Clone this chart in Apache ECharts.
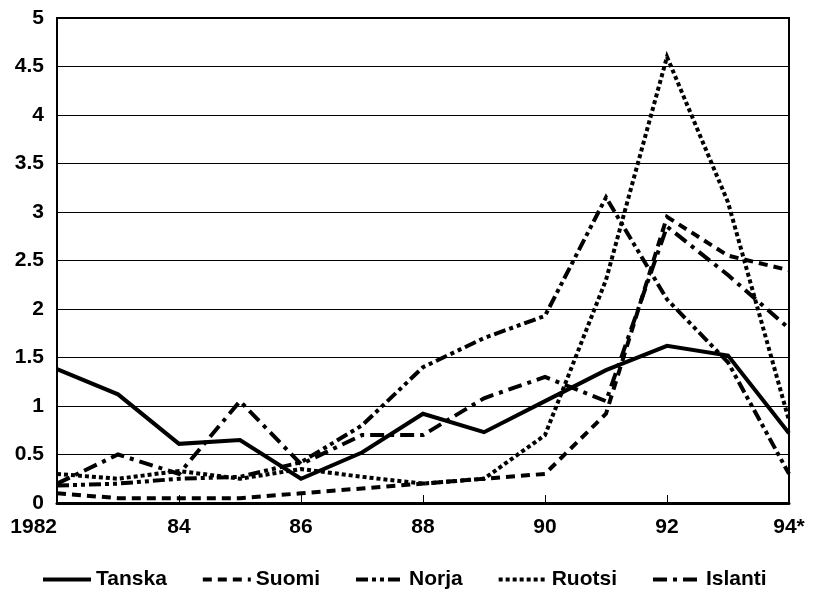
<!DOCTYPE html>
<html>
<head>
<meta charset="utf-8">
<script src="https://cdn.jsdelivr.net/npm/echarts@6/dist/echarts.min.js"></script>
<style>
html,body{margin:0;padding:0;background:#fff;}
#chart{width:829px;height:611px;}
</style>
</head>
<body>
<div id="chart"></div>
<script>
const years = ['1982','83','84','85','86','87','88','89','90','91','92','93','94*'];
const tanska = [1.38,1.12,0.61,0.65,0.25,0.52,0.92,0.73,1.05,1.37,1.62,1.52,0.72];
const suomi  = [0.10,0.05,0.05,0.05,0.10,0.15,0.20,0.25,0.30,0.92,2.95,2.55,2.40];
const norja  = [0.18,0.20,0.25,0.27,0.42,0.80,1.40,1.70,1.93,3.15,2.10,1.45,0.30];
const ruotsi = [0.30,0.25,0.33,0.25,0.35,0.27,0.20,0.25,0.70,2.30,4.60,3.10,0.85];
const islanti= [0.20,0.50,0.30,1.05,0.40,0.70,0.70,1.08,1.30,1.05,2.85,2.35,1.80];
const names = ['Tanska','Suomi','Norja','Ruotsi','Islanti'];

const FONT = '"Liberation Sans", Arial, sans-serif';
function mk(name, data, type, width) {
  return {
    name: name, type: 'line', data: data, symbol: 'none', showSymbol: false,
    lineStyle: { color: '#000', width: width, type: type, cap: 'butt', join: 'miter' },
    itemStyle: { color: '#000' },
    emphasis: { disabled: true }, animation: false
  };
}
const chart = echarts.init(document.getElementById('chart'), null, { renderer: 'canvas' });
chart.setOption({
  animation: false,
  backgroundColor: '#fff',
  grid: { left: 57, right: 40, top: 18, bottom: 108, show: true, borderColor: '#000', borderWidth: 2, backgroundColor: 'transparent' },
  legend: {
    data: names, bottom: 16, left: 36, itemWidth: 48, itemHeight: 12, itemGap: 34,
    itemStyle: { opacity: 0 },
    lineStyle: { width: 4 },
    textStyle: { fontFamily: FONT, fontWeight: 'bold', fontSize: 21, color: '#000' }
  },
  xAxis: {
    type: 'category', data: years, boundaryGap: false,
    axisLine: { show: true, lineStyle: { color: '#000', width: 3 } },
    axisTick: { show: true, inside: true, length: 8, interval: 1, lineStyle: { color: '#000', width: 1 } },
    axisLabel: { interval: 1, margin: 14, color: '#000', fontFamily: FONT, fontWeight: 'bold', fontSize: 21, alignMinLabel: 'right' },
    splitLine: { show: false }
  },
  yAxis: {
    type: 'value', min: 0, max: 5, interval: 0.5,
    axisLine: { show: true, lineStyle: { color: '#000', width: 2 } },
    axisTick: { show: false },
    axisLabel: { margin: 13, color: '#000', fontFamily: FONT, fontWeight: 'bold', fontSize: 21 },
    splitLine: { show: true, lineStyle: { color: '#000', width: 1 } }
  },
  series: [
    mk('Tanska', tanska, 'solid', 4),
    mk('Suomi', suomi, [9, 6], 4),
    mk('Norja', norja, [12, 4, 4, 4, 4, 4], 4),
    mk('Ruotsi', ruotsi, [4, 3], 4),
    mk('Islanti', islanti, [14, 6, 4, 6], 4)
  ]
});
</script>
</body>
</html>
